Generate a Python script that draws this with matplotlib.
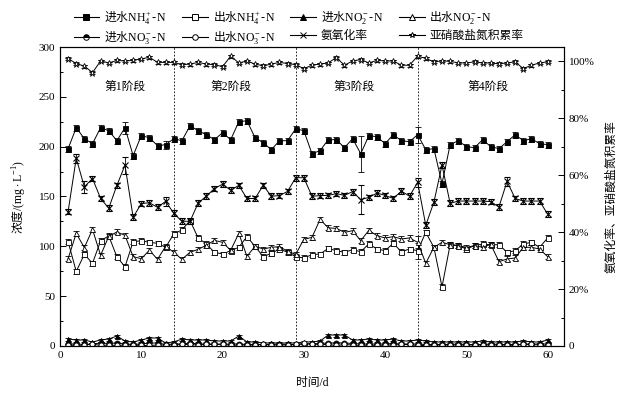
import numpy as np
import matplotlib
matplotlib.use("Agg")
import matplotlib.pyplot as plt
from matplotlib.lines import Line2D
from matplotlib.ticker import MultipleLocator, FuncFormatter

plt.rcParams['font.family'] = ['Liberation Serif', 'Noto Sans CJK SC']
plt.rcParams['mathtext.fontset'] = 'custom'
plt.rcParams['mathtext.rm'] = 'Liberation Serif'
plt.rcParams['mathtext.it'] = 'Liberation Serif:italic'
plt.rcParams['mathtext.bf'] = 'Liberation Serif:bold'
plt.rcParams['axes.unicode_minus'] = False

# ---------------- data ----------------
days = np.arange(1, 61)

nh4_in = [198, 219, 208, 203, 219, 216, 206, 219, 191, 211, 209, 201, 202, 208, 206,
          221, 216, 212, 207, 214, 207, 225, 226, 209, 204, 197, 206, 206, 218, 216,
          193, 196, 207, 207, 199, 208, 193, 211, 210, 203, 212, 206, 205, 212, 197,
          198, 163, 202, 206, 200, 199, 207, 200, 198, 205, 212, 206, 208, 203, 202]

nh4_out = [104.7, 74.8, 92, 83, 105.5, 110.5, 89.5, 79.5, 104.7, 105.5, 104, 103, 99, 112.4, 116.5,
           125.8, 108.4, 102.4, 94, 92.3, 95.6, 99, 109.7, 100, 89.6, 93, 97.3, 94, 89.6, 88.3,
           91.6, 92.3, 98, 95.6, 94, 96.6, 94.6, 102.4, 97.3, 95.6, 103, 94.6, 97.3, 95.6, 114,
           99, 59.4, 101.7, 100.7, 97.3, 100.7, 102.4, 101.5, 101.7, 94, 95.6, 102.4, 104, 99, 108.4]

no2_in = [7, 6, 6, 4, 6, 7, 10, 5, 4, 6, 8, 8, 3, 4, 7,
          6, 6, 6, 5, 5, 5, 10, 4, 4, 3, 3, 3, 3, 3, 4,
          4, 5, 11, 11, 11, 6, 6, 7, 6, 6, 7, 5, 5, 6, 5,
          4, 4, 4, 4, 4, 4, 5, 4, 4, 4, 4, 5, 4, 4, 6]

no2_out = [87.6, 113, 98.7, 117, 91, 110, 114.4, 111, 89.6, 87.6, 96, 87, 100, 94, 87,
           94, 97, 101, 106, 104, 96, 113, 90, 100, 97.3, 99, 99.7, 95, 92, 107,
           109, 127, 118.5, 118, 114, 115.7, 105.7, 116, 110.7, 108.4, 109.7, 107.4, 108.4, 104, 83,
           99, 104, 101.7, 100.7, 99, 100.7, 99, 102, 84.6, 87.3, 88.3, 99, 99, 97.3, 89.6]

no3_in = [2, 2, 1.5, 2, 3, 2.5, 3, 2, 1.5, 2, 3, 3, 1.5, 2, 2,
          3, 2, 2, 2, 1.5, 2, 2, 1.5, 1.5, 1.5, 1.5, 2, 1.5, 1.5, 2,
          2, 2.5, 3, 3, 3, 2.5, 2, 2, 2, 2, 2.5, 2, 2, 2, 1.5,
          1.5, 1.5, 1.5, 2, 1.5, 1.5, 1.5, 2, 1.5, 1.5, 1.5, 1.5, 2, 2, 2]

no3_out = [1, 0.5, 1, 2, 0.5, 1, 0.5, 1, 1, 0.5, 0.5, 1, 1, 1, 1.5,
           1.5, 1, 1.5, 1.5, 2, 0.5, 1, 1, 1, 1.5, 1, 1, 1, 1.5, 2.5,
           2, 1.5, 1.5, 0.5, 1.5, 1, 0.5, 1, 0.5, 1, 1, 1.5, 1.5, 0.5, 0.5,
           1, 1, 1, 1, 1, 1, 1, 1, 1, 1, 0.5, 2, 1.5, 1, 0.5]

# ammonia oxidation rate, %
amo_rate = [47.2, 65.9, 55.9, 58.8, 51.8, 48.4, 56.4, 63.5, 45.2, 50.0, 50.3, 48.7, 50.8, 46.6, 43.8,
            43.8, 50.2, 52.6, 55.3, 56.8, 54.7, 56.4, 51.8, 51.8, 56.4, 52.6, 52.8, 54.3, 59.1, 59.1,
            52.6, 52.8, 52.9, 53.5, 52.9, 54.2, 51.4, 52.2, 53.7, 52.9, 51.8, 54.4, 52.6, 57.5, 42.4,
            50.5, 63.5, 50.1, 50.9, 50.9, 50.9, 50.9, 50.7, 48.8, 57.8, 51.8, 50.9, 50.9, 50.9, 46.3]

# nitrite accumulation rate, %
nar = [100.9, 99.2, 98.3, 96.0, 100.1, 99.4, 100.3, 100.1, 100.3, 100.8, 101.4, 99.6, 99.6, 99.6, 98.8,
       99.0, 99.6, 99.0, 98.8, 98.1, 101.8, 99.4, 100.1, 99.0, 98.4, 99.0, 99.6, 99.2, 98.8, 97.4,
       98.6, 99.0, 99.4, 101.3, 98.6, 100.1, 100.6, 99.4, 100.3, 100.1, 100.1, 98.6, 98.6, 101.8, 101.0,
       99.8, 100.1, 100.0, 99.4, 99.4, 99.8, 99.4, 99.4, 99.1, 99.4, 99.8, 97.4, 98.6, 99.4, 99.8]

# error bars (standard deviations)
err_nh4_in = np.full(60, 3.0)
err_nh4_in[[7, 12, 36, 43]] = [6, 4, 18, 8]
err_nh4_out = np.full(60, 2.5)
err_nh4_out[43] = 8
err_no2_out = np.full(60, 2.5)
err_no2_out[43] = 6
err_rate = np.full(60, 1.0)
err_rate[[1, 2, 7, 12, 36, 43, 54]] = [1.5, 2, 3, 1.5, 5, 1.5, 1.5]

stage_x = [14, 29, 44]
stage_names = ['第1阶段', '第2阶段', '第3阶段', '第4阶段']
stage_pos = [8.0, 21.1, 36.2, 52.7]

# ---------------- figure ----------------
fig = plt.figure(figsize=(6.28, 3.96), dpi=100)
ax = fig.add_axes([0.0955, 0.1263, 0.8025, 0.755])
ax2 = ax.twinx()


def draw(axis, y, err, **kw):
    style = dict(color='k', lw=0.7, ms=3.6, mec='k', mew=0.6, ecolor='k',
                 elinewidth=0.6, capsize=2.2, capthick=0.6)
    style.update(kw)
    axis.errorbar(days, y, yerr=err, **style)


draw(ax, nh4_in, err_nh4_in, marker='s', mfc='k')
draw(ax, nh4_out, err_nh4_out, marker='s', mfc='white')
draw(ax, no2_in, 1.5, marker='^', mfc='k')
draw(ax, no2_out, err_no2_out, marker='^', mfc='white')
draw(ax, no3_in, 0.5, marker='o', mfc='k', fillstyle='top', markerfacecoloralt='white')
draw(ax, no3_out, 0.5, marker='o', mfc='white')
draw(ax2, amo_rate, err_rate, marker='x', mew=0.8, ms=4)
draw(ax2, nar, 0.5, marker='*', mfc='white', ms=5)

for xv in stage_x:
    ax.axvline(xv, color='k', lw=0.6, ls=(0, (2, 2)))

for name, xp in zip(stage_names, stage_pos):
    ax.text(xp, 260, name, ha='center', va='center', fontsize=8.5)

ax.set_xlim(0, 62)
ax.set_ylim(0, 300)
ax2.set_ylim(0, 105)
ax.xaxis.set_major_locator(MultipleLocator(10))
ax.yaxis.set_major_locator(MultipleLocator(50))
ax.yaxis.set_minor_locator(MultipleLocator(25))
ax2.yaxis.set_major_locator(MultipleLocator(20))
ax2.yaxis.set_minor_locator(MultipleLocator(10))
ax2.yaxis.set_major_formatter(FuncFormatter(lambda v, p: '0' if v == 0 else f'{v:.0f}%'))

for a in (ax, ax2):
    a.tick_params(which='both', direction='in', labelsize=8, width=0.7)
    a.tick_params(which='major', length=4)
    a.tick_params(which='minor', length=2.5)
    for s in a.spines.values():
        s.set_linewidth(0.8)

cjk = 'Noto Sans CJK SC'
ax.set_xlabel('时间/d', fontsize=8.5, labelpad=12)
ax.set_ylabel(r'浓度$\mathrm{/(mg\cdot L^{-1})}$', fontsize=8.5, labelpad=8, family=cjk)
ax2.set_ylabel('氨氧化率、亚硝酸盐氮积累率', fontsize=8.5, labelpad=8)

# legend (column-major order gives the two rows of the original)
def handle(marker, mfc, **kw):
    return Line2D([0], [0], color='k', lw=0.8, marker=marker, ms=4, mfc=mfc,
                  mec='k', mew=0.7, **kw)

handles = [handle('s', 'k'), handle('o', 'k', fillstyle='top', markerfacecoloralt='white'),
           handle('s', 'white'), handle('o', 'white'),
           handle('^', 'k'), handle('x', 'k'),
           handle('^', 'white'), handle('*', 'white')]
labels = [r'进水$\mathrm{NH_4^+}$-$\mathrm{N}$', r'进水$\mathrm{NO_3^-}$-$\mathrm{N}$',
          r'出水$\mathrm{NH_4^+}$-$\mathrm{N}$', r'出水$\mathrm{NO_3^-}$-$\mathrm{N}$',
          r'进水$\mathrm{NO_2^-}$-$\mathrm{N}$', '氨氧化率',
          r'出水$\mathrm{NO_2^-}$-$\mathrm{N}$', '亚硝酸盐氮积累率']
fig.legend(handles, labels, ncol=4, loc='upper left', bbox_to_anchor=(0.102, 1.0),
           frameon=False, prop=dict(family=cjk, size=8.5), handlelength=2.2,
           handletextpad=0.4, columnspacing=1.3, labelspacing=0.2, borderpad=0.3)

fig.savefig('out.png', dpi=100)
